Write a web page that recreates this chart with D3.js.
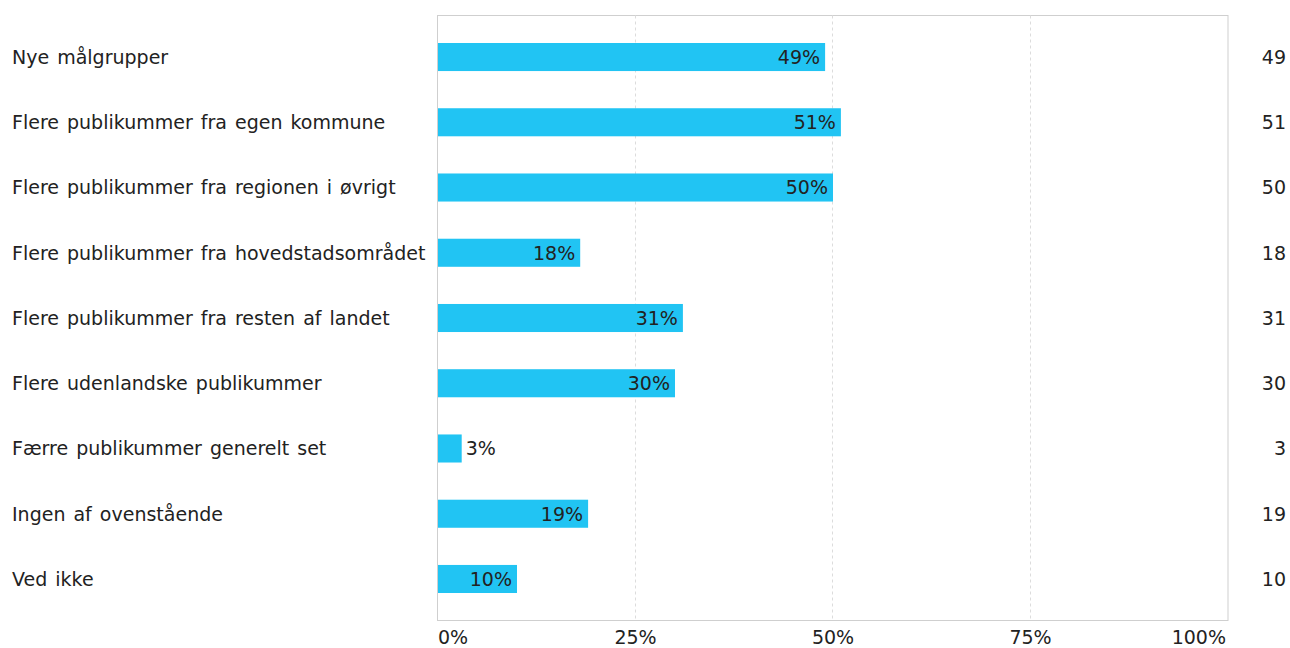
<!DOCTYPE html>
<html>
<head>
<meta charset="utf-8">
<script src="https://cdn.jsdelivr.net/npm/d3@7"></script>
<style>
  html, body { margin: 0; padding: 0; background: #fff; }
  svg { display: block; font-family: "DejaVu Sans", Verdana, sans-serif; }
</style>
</head>
<body>
<svg id="chart" width="1290" height="648"></svg>
<script>
const categories = [
  "Nye målgrupper",
  "Flere publikummer fra egen kommune",
  "Flere publikummer fra regionen i øvrigt",
  "Flere publikummer fra hovedstadsområdet",
  "Flere publikummer fra resten af landet",
  "Flere udenlandske publikummer",
  "Færre publikummer generelt set",
  "Ingen af ovenstående",
  "Ved ikke"
];
const percents = [49, 51, 50, 18, 31, 30, 3, 19, 10];
const counts = [49, 51, 50, 18, 31, 30, 3, 19, 10];
const tickValues = [0, 25, 50, 75, 100];
const tickLabels = ["0%", "25%", "50%", "75%", "100%"];

const svg = d3.select("#chart");
const plot = { left: 438, right: 1228, top: 15.5, bottom: 620.5 };
const fontSize = 19;
const barColor = "#21c4f3";
const textColor = "#222222";

const x = d3.scaleLinear().domain([0, 100]).range([plot.left, plot.right]);
const y = d3.scaleBand().domain(categories)
  .range([24.4, 611.6]).paddingInner(0.57).paddingOuter(0.285);

// frame
svg.append("rect")
  .attr("x", plot.left - 0.5).attr("y", plot.top)
  .attr("width", plot.right - plot.left + 0.5).attr("height", plot.bottom - plot.top)
  .attr("fill", "none").attr("stroke", "#cfcfcf").attr("stroke-width", 1);

// grid lines
svg.append("g").selectAll("line")
  .data(tickValues.filter(v => v > 0 && v < 100))
  .join("line")
  .attr("x1", d => Math.round(x(d)) - 0.5).attr("x2", d => Math.round(x(d)) - 0.5)
  .attr("y1", plot.top).attr("y2", plot.bottom)
  .attr("stroke", "#dcdcdc").attr("stroke-width", 1)
  .attr("stroke-dasharray", "3,3");

// bars
svg.append("g").selectAll("rect")
  .data(categories)
  .join("rect")
  .attr("x", x(0))
  .attr("y", d => y(d))
  .attr("width", (d, i) => x(percents[i]) - x(0))
  .attr("height", y.bandwidth())
  .attr("fill", barColor);

// bar value labels
svg.append("g").selectAll("text")
  .data(categories)
  .join("text")
  .attr("x", (d, i) => {
    const end = x(percents[i]);
    return (end - x(0) > 60) ? end - 5 : end + 4;
  })
  .attr("y", d => y(d) + y.bandwidth() / 2)
  .attr("dy", "0.36em")
  .attr("text-anchor", (d, i) => (x(percents[i]) - x(0) > 60) ? "end" : "start")
  .attr("font-size", fontSize)
  .attr("fill", textColor)
  .text((d, i) => percents[i] + "%");

// category labels
svg.append("g").selectAll("text")
  .data(categories)
  .join("text")
  .attr("x", 12)
  .attr("y", d => y(d) + y.bandwidth() / 2)
  .attr("dy", "0.36em")
  .attr("font-size", fontSize)
  .attr("word-spacing", 2)
  .attr("fill", textColor)
  .text(d => d);

// count labels on right
svg.append("g").selectAll("text")
  .data(categories)
  .join("text")
  .attr("x", 1286)
  .attr("y", d => y(d) + y.bandwidth() / 2)
  .attr("dy", "0.36em")
  .attr("text-anchor", "end")
  .attr("font-size", fontSize)
  .attr("fill", textColor)
  .text((d, i) => counts[i]);

// x-axis tick labels
svg.append("g").selectAll("text")
  .data(tickValues)
  .join("text")
  .attr("x", (d, i) => i === tickValues.length - 1 ? x(d) - 2 : x(d))
  .attr("y", 644)
  .attr("text-anchor", (d, i) => i === 0 ? "start" : (i === tickValues.length - 1 ? "end" : "middle"))
  .attr("font-size", fontSize)
  .attr("fill", textColor)
  .text((d, i) => tickLabels[i]);
</script>
</body>
</html>
